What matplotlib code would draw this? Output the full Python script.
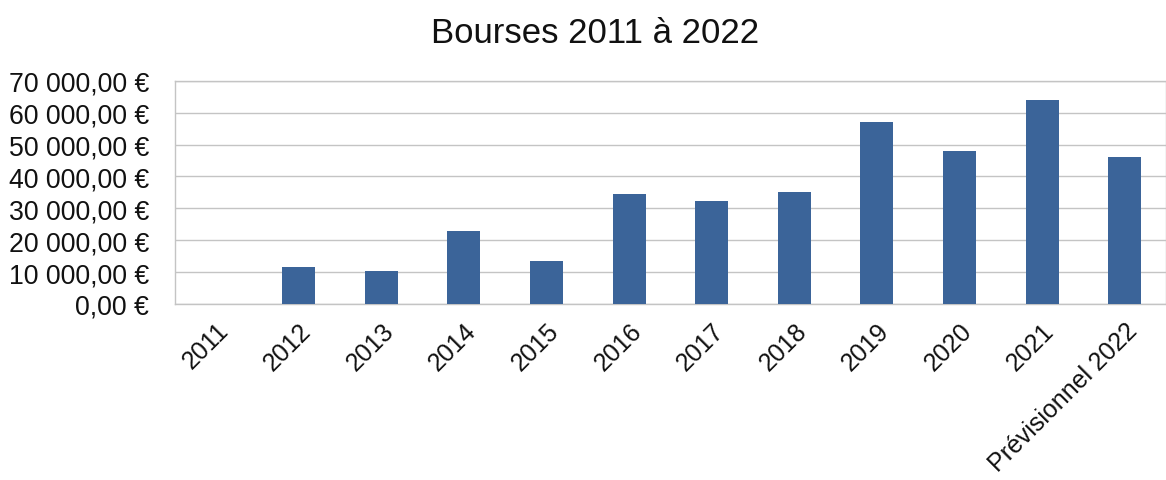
import matplotlib
matplotlib.use("Agg")
import matplotlib.pyplot as plt
from matplotlib.ticker import FuncFormatter

plt.rcParams['font.family'] = ['Liberation Sans', 'DejaVu Sans']

# Montants des bourses par année
annees = ['2011', '2012', '2013', '2014', '2015', '2016', '2017', '2018',
          '2019', '2020', '2021', 'Prévisionnel 2022']
montants = [0, 11500, 10300, 23000, 13400, 34500, 32300, 35000,
            57000, 48000, 64000, 46000]
graduations = [0, 10000, 20000, 30000, 40000, 50000, 60000, 70000]


def euros(v, pos=None):
    # format français : espace pour les milliers, virgule décimale
    s = f"{v:,.2f}".replace(',', ' ').replace('.', ',')
    return s + ' €'


fig = plt.figure(figsize=(11.66, 4.81), dpi=100)
ax = fig.add_axes([0.150, 0.366, 0.850, 0.464])

x = range(len(annees))
ax.bar(x, montants, width=0.40, color='#3b6499', zorder=3)

ax.set_xlim(-0.5, len(annees) - 0.5)
ax.set_ylim(0, 70000)
ax.set_yticks(graduations)
ax.yaxis.set_major_formatter(FuncFormatter(euros))
ax.grid(axis='y', color='#c4c4c4', linewidth=1.0, zorder=0)

for s in ax.spines.values():
    s.set_color('#c4c4c4')
    s.set_linewidth(1.0)

ax.set_xticks(list(x))
ax.set_xticklabels(annees, rotation=45, ha='right', rotation_mode='anchor')
ax.tick_params(axis='both', length=0, colors='#111111')
ax.tick_params(axis='y', pad=18.5, labelsize=19.2)
ax.tick_params(axis='x', pad=10, labelsize=18)

fig.text(0.51, 0.93, 'Bourses 2011 à 2022', ha='center', va='center',
         fontsize=25, color='#111111')

fig.savefig('out.png', dpi=100)
